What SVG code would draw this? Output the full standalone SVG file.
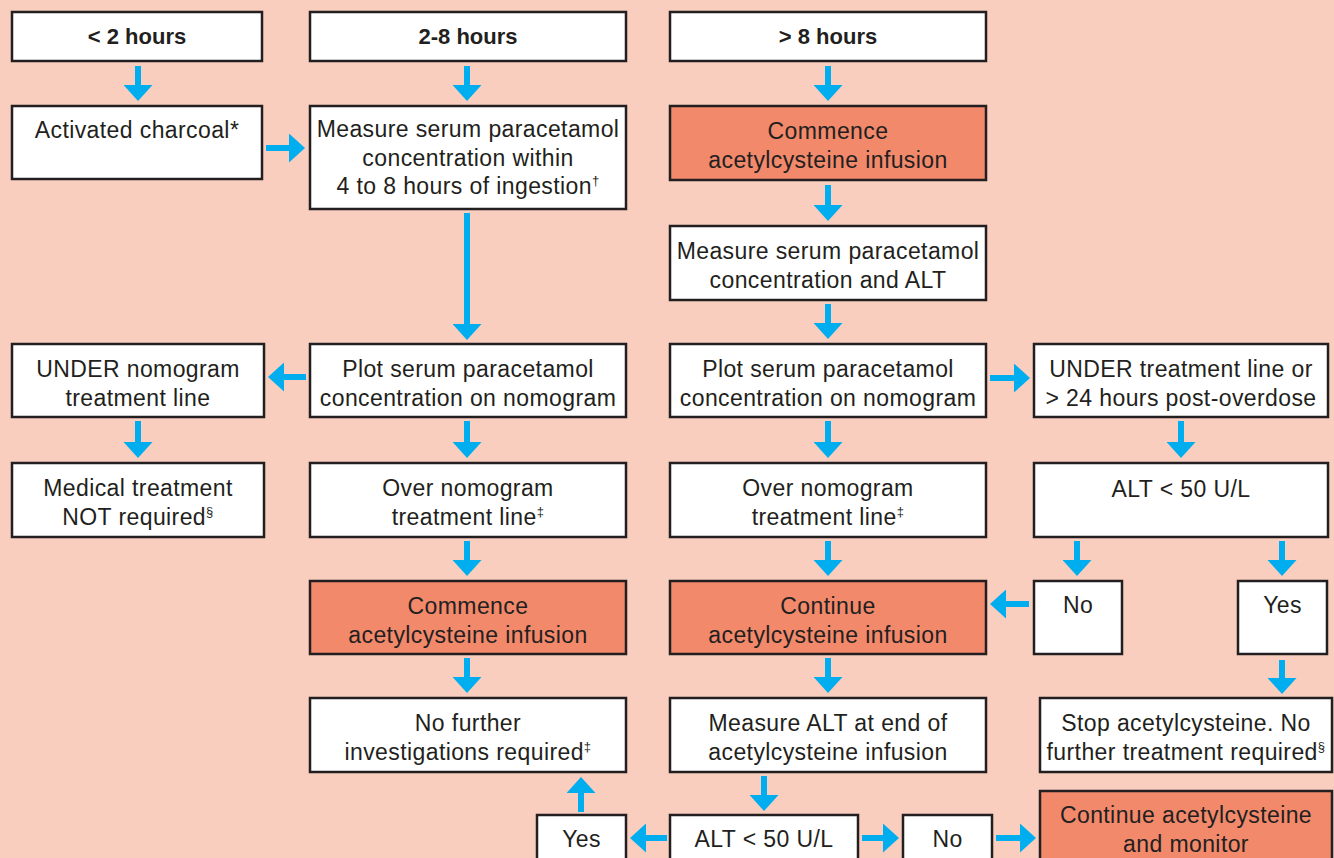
<svg xmlns="http://www.w3.org/2000/svg" width="1334" height="858" viewBox="0 0 1334 858">
<style>
.b{fill:#ffffff;stroke:#231f20;stroke-width:2.5}
.o{fill:#f2896b;stroke:#231f20;stroke-width:2.5}
.t{font-family:"Liberation Sans",Arial,sans-serif;font-size:23px;letter-spacing:0.4px;fill:#231f20;text-anchor:middle}
.h{font-family:"Liberation Sans",Arial,sans-serif;font-size:22px;font-weight:bold;fill:#231f20;text-anchor:middle}
.s{font-size:13px}
.a{stroke:#00aeef;stroke-width:6;fill:none;marker-end:url(#ah)}
</style>
<defs>
<marker id="ah" markerUnits="userSpaceOnUse" viewBox="0 0 16 29" markerWidth="16" markerHeight="29" refX="2" refY="14.5" orient="auto">
<path d="M0,0 L16,14.5 L0,29 Z" fill="#00aeef"/>
</marker>
</defs>
<rect x="0" y="0" width="1334" height="858" fill="#f9cebe"/>

<g id="n-lt2"><rect class="b" x="12" y="12" width="250" height="49"/><text class="h" x="137" y="44">&lt; 2 hours</text></g>
<g id="n-2to8"><rect class="b" x="310" y="12" width="316" height="49"/><text class="h" x="468" y="44">2-8 hours</text></g>
<g id="n-gt8"><rect class="b" x="670" y="12" width="316" height="49"/><text class="h" x="828" y="44">&gt; 8 hours</text></g>

<g id="n-charcoal"><rect class="b" x="12" y="106" width="250" height="73"/><text class="t" x="137" y="138">Activated charcoal*</text></g>
<g id="n-measure1"><rect class="b" x="310" y="106" width="316" height="103"/><text class="t" x="468" y="137">Measure serum paracetamol</text><text class="t" x="468" y="165.5">concentration within</text><text class="t" x="468" y="194">4 to 8 hours of ingestion<tspan class="s" dy="-9">†</tspan></text></g>
<g id="n-commence1"><rect class="o" x="670" y="106" width="316" height="74"/><text class="t" x="828" y="139">Commence</text><text class="t" x="828" y="167.5">acetylcysteine infusion</text></g>

<g id="n-measure2"><rect class="b" x="670" y="226" width="316" height="74"/><text class="t" x="828" y="259">Measure serum paracetamol</text><text class="t" x="828" y="287.5">concentration and ALT</text></g>

<g id="n-under1"><rect class="b" x="12" y="344" width="252" height="73"/><text class="t" x="138" y="377">UNDER nomogram</text><text class="t" x="138" y="405.5">treatment line</text></g>
<g id="n-plot1"><rect class="b" x="310" y="344" width="316" height="73"/><text class="t" x="468" y="377">Plot serum paracetamol</text><text class="t" x="468" y="405.5">concentration on nomogram</text></g>
<g id="n-plot2"><rect class="b" x="670" y="344" width="316" height="73"/><text class="t" x="828" y="377">Plot serum paracetamol</text><text class="t" x="828" y="405.5">concentration on nomogram</text></g>
<g id="n-under2"><rect class="b" x="1034" y="344" width="294" height="73"/><text class="t" x="1181" y="377">UNDER treatment line or</text><text class="t" x="1181" y="405.5">&gt; 24 hours post-overdose</text></g>

<g id="n-medical"><rect class="b" x="12" y="463" width="252" height="74"/><text class="t" x="138" y="496">Medical treatment</text><text class="t" x="138" y="524.5">NOT required<tspan class="s" dy="-9">§</tspan></text></g>
<g id="n-over1"><rect class="b" x="310" y="463" width="316" height="74"/><text class="t" x="468" y="496">Over nomogram</text><text class="t" x="468" y="524.5">treatment line<tspan class="s" dy="-9">‡</tspan></text></g>
<g id="n-over2"><rect class="b" x="670" y="463" width="316" height="74"/><text class="t" x="828" y="496">Over nomogram</text><text class="t" x="828" y="524.5">treatment line<tspan class="s" dy="-9">‡</tspan></text></g>
<g id="n-alt1"><rect class="b" x="1034" y="463" width="294" height="74"/><text class="t" x="1181" y="497">ALT &lt; 50 U/L</text></g>

<g id="n-commence2"><rect class="o" x="310" y="581" width="316" height="73"/><text class="t" x="468" y="614">Commence</text><text class="t" x="468" y="642.5">acetylcysteine infusion</text></g>
<g id="n-continue1"><rect class="o" x="670" y="581" width="316" height="73"/><text class="t" x="828" y="614">Continue</text><text class="t" x="828" y="642.5">acetylcysteine infusion</text></g>
<g id="n-no1"><rect class="b" x="1034" y="581" width="88" height="73"/><text class="t" x="1078" y="613">No</text></g>
<g id="n-yes1"><rect class="b" x="1238" y="581" width="89" height="73"/><text class="t" x="1282.5" y="613">Yes</text></g>

<g id="n-nofurther"><rect class="b" x="310" y="698" width="316" height="74"/><text class="t" x="468" y="731">No further</text><text class="t" x="468" y="759.5">investigations required<tspan class="s" dy="-9">‡</tspan></text></g>
<g id="n-measurealt"><rect class="b" x="670" y="698" width="316" height="74"/><text class="t" x="828" y="731">Measure ALT at end of</text><text class="t" x="828" y="759.5">acetylcysteine infusion</text></g>
<g id="n-stop"><rect class="b" x="1040" y="698" width="292" height="74"/><text class="t" x="1186" y="731">Stop acetylcysteine. No</text><text class="t" x="1186" y="759.5">further treatment required<tspan class="s" dy="-9">§</tspan></text></g>

<g id="n-yes2"><rect class="b" x="537" y="815" width="89" height="60"/><text class="t" x="581.5" y="847">Yes</text></g>
<g id="n-alt2"><rect class="b" x="670" y="815" width="188" height="60"/><text class="t" x="764" y="847">ALT &lt; 50 U/L</text></g>
<g id="n-no2"><rect class="b" x="903" y="815" width="89" height="60"/><text class="t" x="947.5" y="847">No</text></g>
<g id="n-monitor"><rect class="o" x="1040" y="791" width="292" height="84"/><text class="t" x="1186" y="823">Continue acetylcysteine</text><text class="t" x="1186" y="851.5">and monitor</text></g>

<g id="connectors">
<line class="a" x1="138" y1="66" x2="138" y2="87"/>
<line class="a" x1="467" y1="66" x2="467" y2="87"/>
<line class="a" x1="828" y1="66" x2="828" y2="87"/>
<line class="a" x1="266" y1="148" x2="291" y2="148"/>
<line class="a" x1="467" y1="213" x2="467" y2="326"/>
<line class="a" x1="828" y1="185" x2="828" y2="207"/>
<line class="a" x1="828" y1="304" x2="828" y2="325"/>
<line class="a" x1="306" y1="377" x2="282" y2="377"/>
<line class="a" x1="990" y1="378" x2="1016" y2="378"/>
<line class="a" x1="138" y1="421" x2="138" y2="444"/>
<line class="a" x1="467" y1="421" x2="467" y2="444"/>
<line class="a" x1="828" y1="421" x2="828" y2="444"/>
<line class="a" x1="1181" y1="421" x2="1181" y2="444"/>
<line class="a" x1="467" y1="541" x2="467" y2="562"/>
<line class="a" x1="828" y1="541" x2="828" y2="562"/>
<line class="a" x1="1077" y1="541" x2="1077" y2="562"/>
<line class="a" x1="1282" y1="541" x2="1282" y2="562"/>
<line class="a" x1="1029" y1="604" x2="1004" y2="604"/>
<line class="a" x1="467" y1="658" x2="467" y2="679"/>
<line class="a" x1="828" y1="658" x2="828" y2="679"/>
<line class="a" x1="1282" y1="660" x2="1282" y2="680"/>
<line class="a" x1="581" y1="812" x2="581" y2="791"/>
<line class="a" x1="764" y1="776" x2="764" y2="797"/>
<line class="a" x1="667" y1="838" x2="644" y2="838"/>
<line class="a" x1="862" y1="838" x2="885" y2="838"/>
<line class="a" x1="996" y1="838" x2="1022" y2="838"/>
</g>
</svg>
